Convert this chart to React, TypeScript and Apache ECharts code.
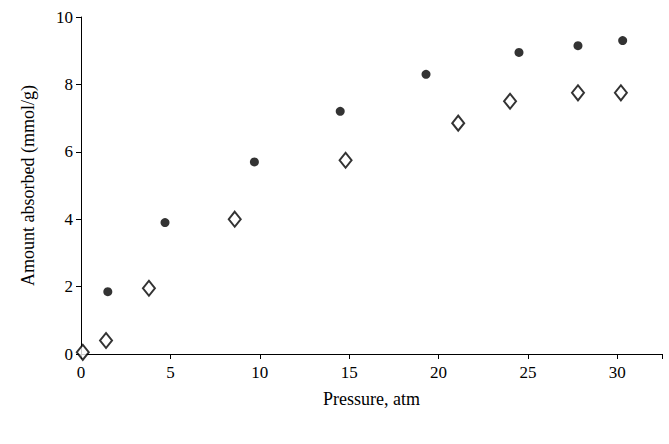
import React, { useEffect, useRef } from 'react';
import * as echarts from 'echarts';

// filled points
const filledX = [1.5, 4.7, 9.7, 14.5, 19.3, 24.5, 27.8, 30.3];
const filledY = [1.85, 3.9, 5.7, 7.2, 8.3, 8.95, 9.15, 9.3];
// open diamonds
const openX = [0.1, 1.4, 3.8, 8.6, 14.8, 21.1, 24.0, 27.8, 30.2];
const openY = [0.05, 0.4, 1.95, 4.0, 5.75, 6.85, 7.5, 7.75, 7.75];

const font = 'Liberation Serif';

const App = () => {
  const chartRef = useRef(null);

  useEffect(() => {
    if (!chartRef.current) return;
    const chart = echarts.init(chartRef.current, null, { renderer: 'svg' });
    const axisLine = { show: true, lineStyle: { color: '#000', width: 1 } };
    chart.setOption({
      animation: false,
      grid: { left: 81, right: 7, top: 17, bottom: 90 },
      xAxis: {
        type: 'value', min: 0, max: 32.5, interval: 5,
        name: 'Pressure, atm', nameLocation: 'middle', nameGap: 36,
        nameTextStyle: { fontFamily: font, fontSize: 18, color: '#000' },
        axisLine, axisTick: { show: true, length: 5 },
        axisLabel: { fontFamily: font, fontSize: 17, color: '#000', margin: 10,
          formatter: (v: number) => (v % 5 === 0 && v <= 30 ? String(v) : '') },
        splitLine: { show: false },
      },
      yAxis: {
        type: 'value', min: 0, max: 10, interval: 2,
        name: 'Amount absorbed (mmol/g)', nameLocation: 'middle', nameGap: 44,
        nameTextStyle: { fontFamily: font, fontSize: 18, color: '#000' },
        axisLine, axisTick: { show: true, length: 5 },
        axisLabel: { fontFamily: font, fontSize: 17, color: '#000', margin: 8 },
        splitLine: { show: false },
      },
      series: [
        {
          type: 'scatter', symbol: 'circle', symbolSize: 9,
          itemStyle: { color: '#000' },
          data: filledX.map((x, i) => [x, filledY[i]]),
        },
        {
          type: 'scatter', symbol: 'diamond', symbolSize: [12, 15],
          itemStyle: { color: '#fff', borderColor: '#000', borderWidth: 2 },
          data: openX.map((x, i) => [x, openY[i]]),
        },
      ],
    });
    return () => chart.dispose();
  }, []);

  return (
    <div ref={chartRef}
      style={{ position: 'absolute', top: 0, left: 0, width: 669, height: 444, background: '#fff' }} />
  );
};

export default App;
